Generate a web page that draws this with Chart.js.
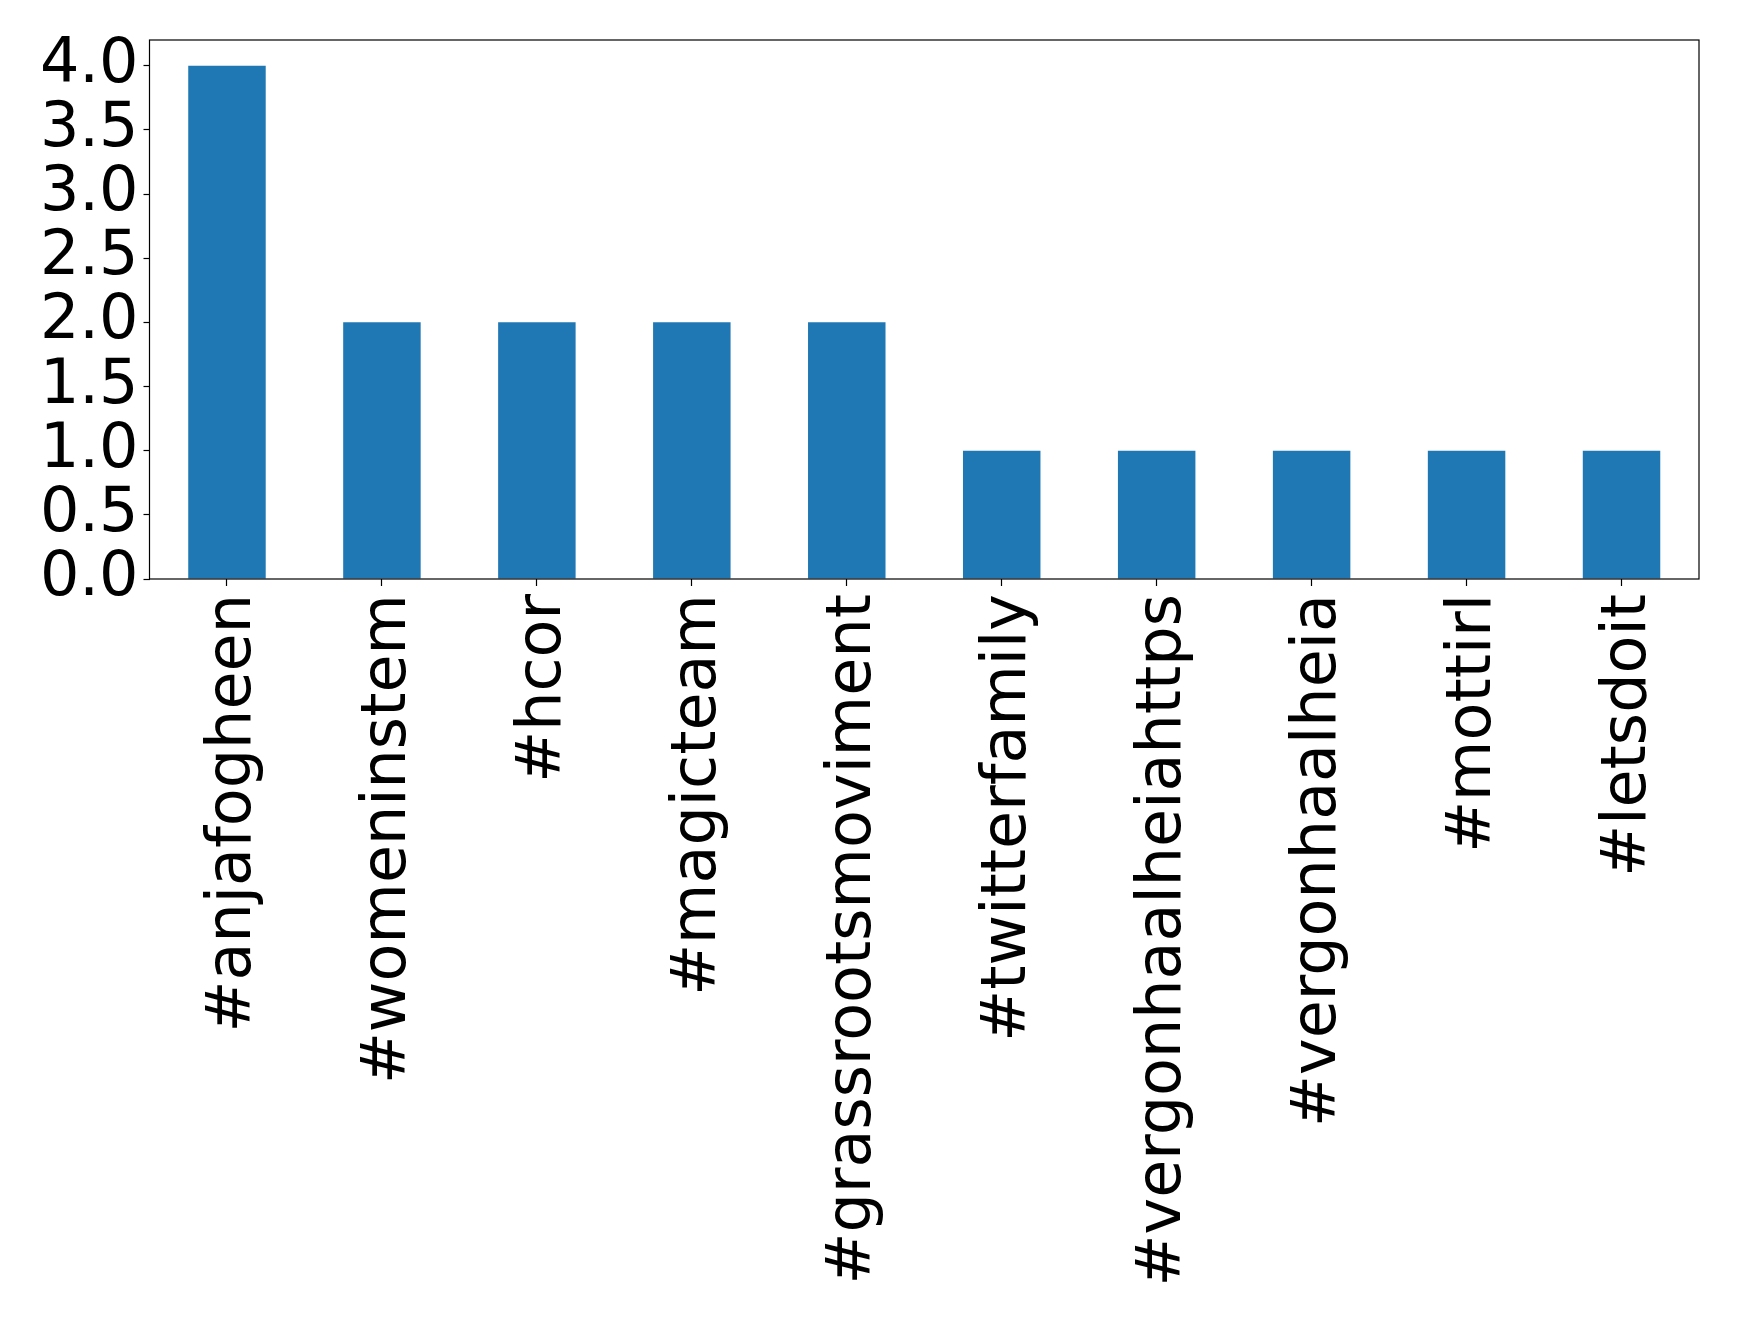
<!DOCTYPE html>
<html lang="en">
<head>
  <meta charset="UTF-8">
  <title>Hashtags</title>
  <script src="https://cdn.jsdelivr.net/npm/chart.js"></script>
  <style>
    html, body { margin: 0; padding: 0; background: #fff; }
    #wrap { width: 1739px; height: 1326px; }
  </style>
</head>
<body>
<div id="wrap"><canvas id="chart" width="1739" height="1326"></canvas></div>

<script>
  // Данные
  const hashtags = ['#anjafogheen', '#womeninstem', '#hcor', '#magicteam', '#grassrootsmoviment',
    '#twitterfamily', '#vergonhaalheiahttps', '#vergonhaalheia', '#mottirl', '#letsdoit'];
  const counts = [4, 2, 2, 2, 2, 1, 1, 1, 1, 1];
  const yTicks = [0, 0.5, 1, 1.5, 2, 2.5, 3, 3.5, 4];

  // Рамка вокруг области графика
  const frame = {
    id: 'frame',
    afterDraw(chart) {
      const a = chart.chartArea;
      const ctx = chart.ctx;
      ctx.save();
      ctx.strokeStyle = '#000';
      ctx.lineWidth = 1.2;
      ctx.strokeRect(a.left, a.top, a.right - a.left, a.bottom - a.top);
      ctx.restore();
    }
  };

  Chart.defaults.font.family = '"DejaVu Sans", sans-serif';
  Chart.defaults.color = '#000';

  new Chart(document.getElementById('chart').getContext('2d'), {
    type: 'bar',
    data: {
      labels: hashtags,
      datasets: [{
        data: counts,
        backgroundColor: '#1f77b4',
        categoryPercentage: 1,
        barPercentage: 0.5
      }]
    },
    options: {
      responsive: false,
      animation: false,
      layout: { padding: { left: 0, top: 40, right: 40, bottom: 0 } },
      plugins: { legend: { display: false }, tooltip: { enabled: false } },
      scales: {
        x: {
          grid: { drawOnChartArea: false, offset: false, tickLength: 7, color: '#000', tickWidth: 1.2 },
          border: { display: false },
          ticks: { font: { size: 62 }, minRotation: 90, maxRotation: 90, padding: 8, labelOffset: 7, autoSkip: false },
          afterFit(scale) { scale.height = 1326 - 579; }
        },
        y: {
          min: 0,
          max: 4.2,
          afterBuildTicks(scale) { scale.ticks = yTicks.map(v => ({ value: v })); },
          grid: { drawOnChartArea: false, tickLength: 6, color: '#000', tickWidth: 1.2 },
          border: { display: false },
          ticks: { font: { size: 62 }, padding: 5, autoSkip: false, callback: v => v.toFixed(1) },
          afterFit(scale) {
            scale.width = 149.5;
            scale.paddingTop = 0;
            scale.paddingBottom = 0;
          }
        }
      }
    },
    plugins: [frame]
  });
</script>
</body>
</html>
